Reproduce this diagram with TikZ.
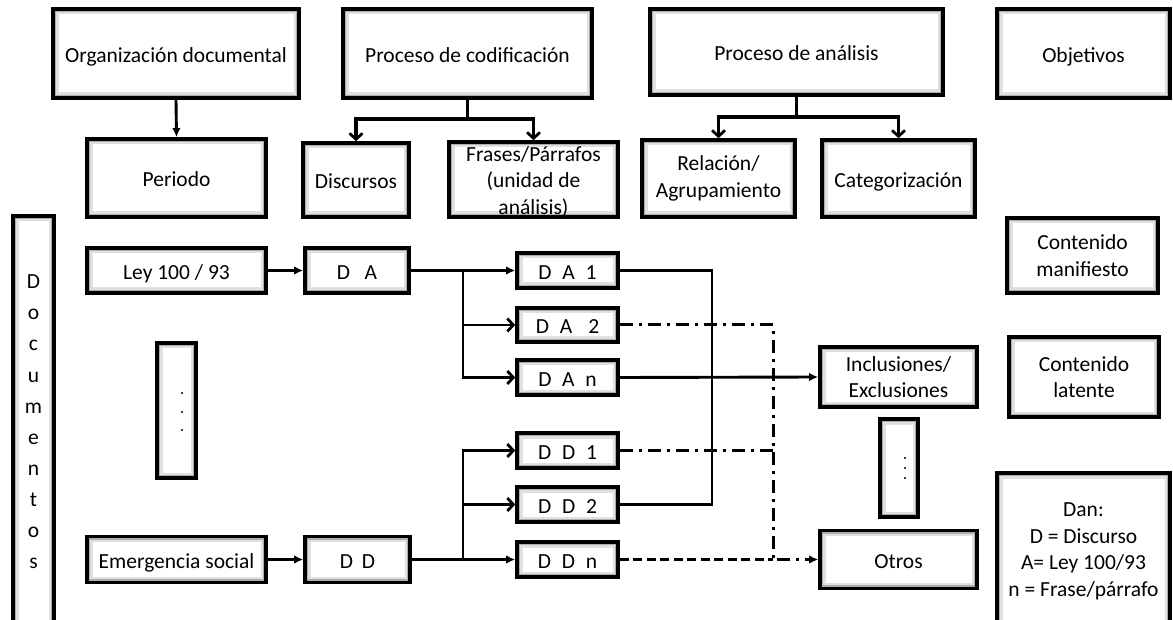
\documentclass[tikz,border=0pt]{standalone}
\usepackage{fontspec}
\setmainfont{Carlito}
\usetikzlibrary{arrows.meta}
\begin{document}
\begin{tikzpicture}[x=1pt,y=-1pt,
  every node/.style={font=\fontsize{21.5}{26.5}\selectfont},
  wh/.style 2 args={minimum width=#1pt,minimum height=#2pt},
  box/.style={draw=black,line width=3.6pt,fill=white,align=center,inner sep=0pt,
    path picture={
      \draw[black!12,line width=11pt] (path picture bounding box.south west) rectangle (path picture bounding box.north east);
      \draw[black!32,line width=6.5pt] (path picture bounding box.south west) rectangle (path picture bounding box.north east);}},
  one/.style={text height=20.4pt,text depth=2.8pt},
  plain/.style={inner sep=0pt,align=center},
  tree/.style={line width=3.2pt},
  conn/.style={line width=2.9pt},
  tri/.style={-{Latex[length=9pt,width=8.5pt]}},
  chev/.style={-{Straight Barb[length=6pt,width=13pt,line width=2.8pt]}},
  dashdotline/.style={line width=3pt,dash pattern=on 13pt off 6pt on 3pt off 6pt},
  dashline/.style={line width=3pt,dash pattern=on 9pt off 4.5pt}
]
\useasboundingbox (0,0) rectangle (1173,620);
\clip (0,0) rectangle (1173,620);
\fill[white] (0,0) rectangle (1173,620);

% top row
\node[box,one,wh={246}{89}] (org) at (176,53.5) {Organización documental};
\node[box,one,wh={249}{89}] (cod) at (467.5,53.5) {Proceso de codificación};
\node[box,one,wh={293}{86}] (ana) at (796.5,52) {Proceso de análisis};
\node[box,one,wh={173}{89}] (obj) at (1083.5,53.5) {Objetivos};

% second row
\node[box,one,wh={179}{78}] (per) at (176.5,178) {Periodo};
\node[box,one,wh={106}{74}] (dis) at (356,180) {Discursos};
\node[box,wh={169}{75}] (fra) at (533.5,179.5) {};
\node[plain] (fratext) at (533.5,182) {Frases/Párrafos\\(unidad de\\análisis)};
\node[box,wh={153}{77}] (rel) at (718.5,178.5) {Relación/\\Agrupamiento};
\node[box,one,wh={153}{77}] (cat) at (898.5,178.5) {Categorización};

% documentos column
\node[box,wh={41}{414}] (doc) at (33.5,423) {};
\foreach \l [count=\i from 0] in {D,o,c,u,m,e,n,t,o,s}
  \node[anchor=base] (docl\i) at (33.5,{289+31*\i}) {\l};

% left column
\node[box,one,wh={179}{45}] (ley) at (176.5,270.5) {Ley 100 / 93};
\node[box,one,wh={179}{46}] (eme) at (176.5,559.5) {Emergencia social};
\node[box,wh={39}{135}] (dl) at (176.5,410.5) {};
\fill (182,393) circle (1.2pt) (182,412) circle (1.2pt) (182,430) circle (1.2pt);

\node[box,one,wh={104}{45}] (da) at (357,270.5) {D\hspace{0.68em}A};
\node[box,one,wh={105}{46}] (dd) at (357.5,559.5) {D\hspace{0.4em}D};

% fragments
\node[box,one,wh={101}{35}] (da1) at (567.5,270.5) {D\hspace{.5em}A\hspace{.5em}1};
\node[box,one,wh={101}{34}] (da2) at (567.5,325) {D\hspace{.5em}A\hspace{.75em}2};
\node[box,one,wh={101}{35}] (dan) at (567.5,377.5) {D\hspace{.5em}A\hspace{.5em}n};
\node[box,one,wh={101}{35}] (dd1) at (567.5,450.5) {D\hspace{.5em}D\hspace{.5em}1};
\node[box,one,wh={101}{35}] (dd2) at (567.5,504.5) {D\hspace{.5em}D\hspace{.5em}2};
\node[box,one,wh={101}{35}] (ddn) at (567.5,559.5) {D\hspace{.5em}D\hspace{.5em}n};

% categories
\node[box,wh={157}{60}] (inc) at (898.5,377) {Inclusiones/\\Exclusiones};
\node[box,wh={38}{98}] (dr) at (899,468) {};
\fill (905,458) circle (1.1pt) (905,468) circle (1.1pt) (905,478) circle (1.1pt);
\node[box,one,wh={157}{58}] (otr) at (898.5,559.5) {Otros};

% objectives
\node[box,wh={151}{75}] (cm) at (1082.5,255.5) {Contenido\\manifiesto};
\node[box,wh={150}{80}] (cl) at (1084,377) {Contenido\\latente};
\node[box,wh={173}{157}] (dan2) at (1083.5,551.5) {Dan:\\D = Discurso\\A= Ley 100/93\\n = Frase/párrafo};

% coordinates
\coordinate (cj) at (467.5,119);
\coordinate (aj) at (796.5,117);
\coordinate (ja) at (463,270.5);
\coordinate (jd) at (463,559.5);
\coordinate (sx) at (712,504.5);
\coordinate (vx) at (773,559.5);

% tree connectors
\draw[conn,tri] (org.south) -- (per.north);
\draw[tree] (cod.south) -- (cj);
\draw[tree,chev] (cj) -| (dis.north);
\draw[tree,chev] (cj) -| (fra.north);
\draw[tree] (ana.south) -- (aj);
\draw[tree,chev] (aj) -| (rel.north);
\draw[tree,chev] (aj) -| (cat.north);

% flow connectors
\draw[conn,tri] (ley.east) -- (da.west);
\draw[conn,tri] (da.east) -- (da1.west);
\draw[conn,chev] (ja) |- (da2.west);
\draw[conn,chev] (ja) |- (dan.west);
\draw[conn,tri] (eme.east) -- (dd.west);
\draw[conn,tri] (dd.east) -- (ddn.west);
\draw[conn,chev] (jd) |- (dd1.west);
\draw[conn,chev] (jd) |- (dd2.west);
\draw[conn] (da1.east) -| (sx) -- (dd2.east);
\draw[conn,tri] (dan.east) -- (inc.west);
\draw[dashdotline,tri] (da2.east) -| (vx) -- (otr.west);
\draw[dashdotline] (dd1.east) -- (dd1.east -| vx);
\draw[dashline] (ddn.east) -- (vx);
\end{tikzpicture}
\end{document}
